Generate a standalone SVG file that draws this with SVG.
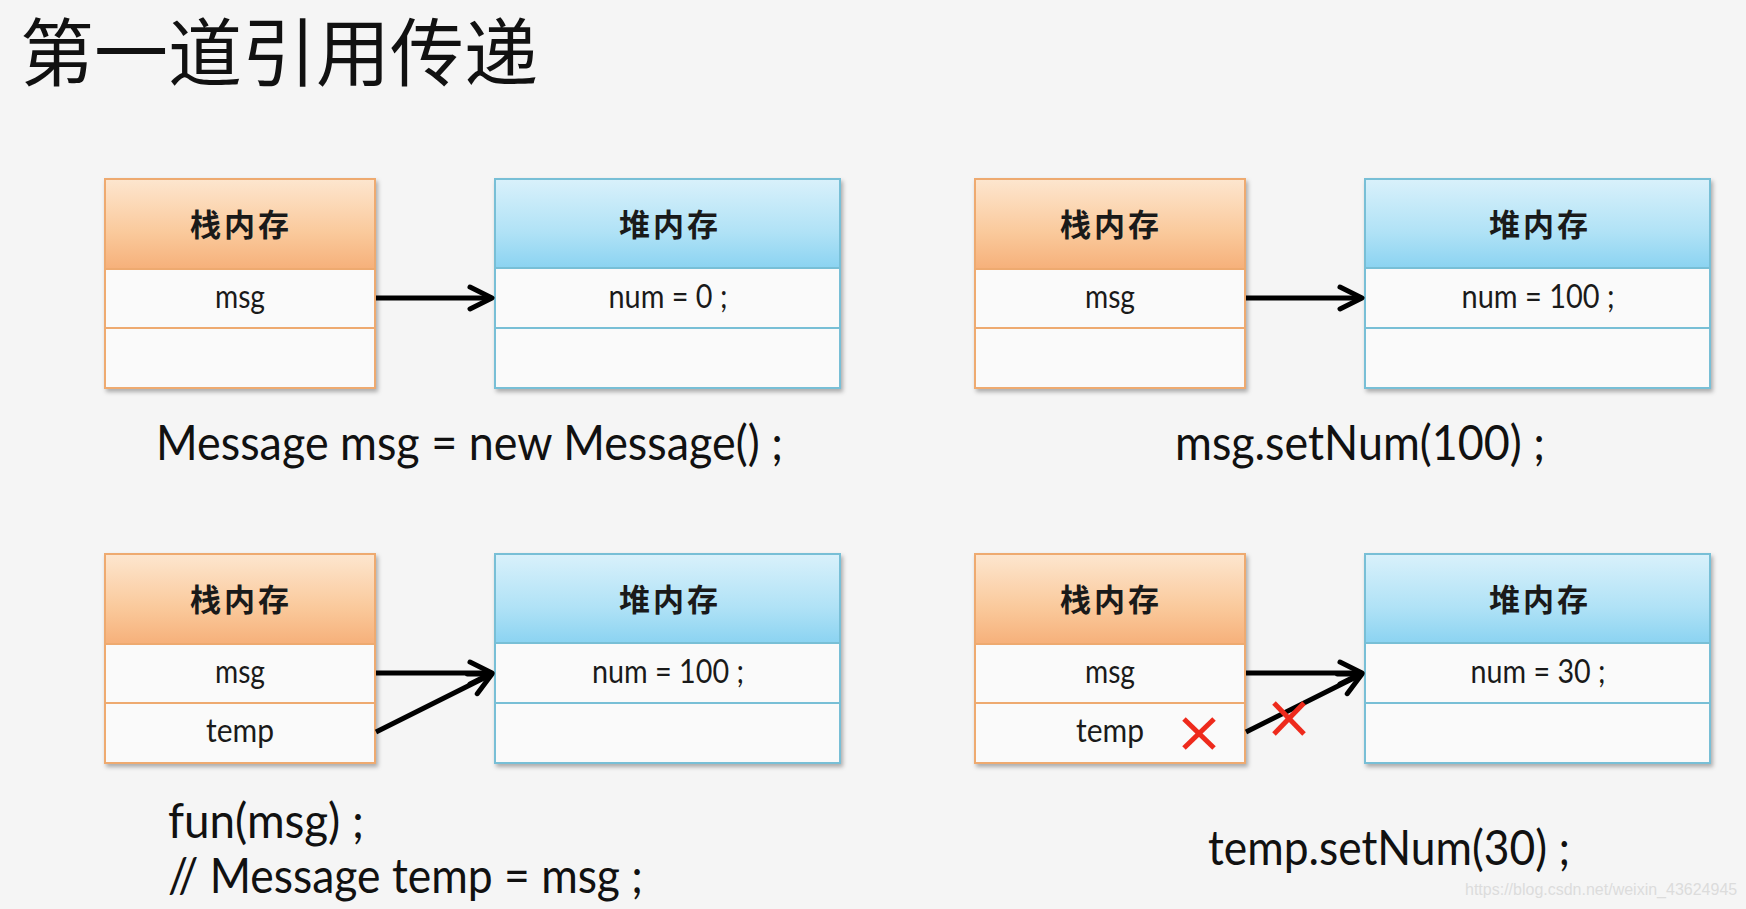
<svg xmlns="http://www.w3.org/2000/svg" width="1746" height="909" viewBox="0 0 1746 909">
<defs>
<linearGradient id="gStack" x1="0" y1="0" x2="0" y2="1">
<stop offset="0" stop-color="#fde6cf"/>
<stop offset="0.6" stop-color="#fac99b"/>
<stop offset="1" stop-color="#f6b07a"/>
</linearGradient>
<linearGradient id="gHeap" x1="0" y1="0" x2="0" y2="1">
<stop offset="0" stop-color="#d9f1fb"/>
<stop offset="0.6" stop-color="#b0e2f6"/>
<stop offset="1" stop-color="#8bd3f1"/>
</linearGradient>
<filter id="sh" x="-5%" y="-5%" width="115%" height="115%">
<feDropShadow dx="2" dy="3" stdDeviation="2" flood-color="#000" flood-opacity="0.3"/>
</filter>
<marker id="ah" viewBox="0 0 30 30" refX="26" refY="15" markerWidth="30" markerHeight="30" markerUnits="userSpaceOnUse" orient="auto">
<path d="M4,4 L26,15 L4,26" fill="none" stroke="#000" stroke-width="5" stroke-linecap="round" stroke-linejoin="round"/>
</marker>
<g id="stackBox">
<rect x="0" y="0" width="270" height="209" fill="#fafafa" stroke="#eeaa70" stroke-width="2" filter="url(#sh)"/>
<rect x="0" y="0" width="270" height="90" fill="url(#gStack)" stroke="#eeaa70" stroke-width="2"/>
<line x1="0" y1="149" x2="270" y2="149" stroke="#eeaa70" stroke-width="2"/>
<text x="136" y="57" class="cjkh">栈内存</text>
</g>
<g id="heapBox">
<rect x="0" y="0" width="345" height="209" fill="#fafafa" stroke="#78bfd6" stroke-width="2" filter="url(#sh)"/>
<rect x="0" y="0" width="345" height="89" fill="url(#gHeap)" stroke="#78bfd6" stroke-width="2"/>
<line x1="0" y1="149" x2="345" y2="149" stroke="#78bfd6" stroke-width="2"/>
<text x="175" y="57" class="cjkh">堆内存</text>
</g>
</defs>
<style>
.cjkh{font-family:"Noto Sans CJK SC","Noto Sans CJK TC",sans-serif;font-weight:bold;font-size:31px;letter-spacing:3px;text-anchor:middle;fill:#1a1a1a}
.cell{font-family:Lato,"Liberation Sans",sans-serif;font-size:32px;text-anchor:middle;fill:#1a1a1a}
.code{font-family:Lato,"Liberation Sans",sans-serif;font-size:49px;fill:#111}
.title{font-family:"Noto Sans CJK SC","Noto Sans CJK TC",sans-serif;font-size:74px;fill:#111}
.conn{stroke:#000;stroke-width:5;fill:none;marker-end:url(#ah)}
.xmark{stroke:#ee2a1c;stroke-width:5;stroke-linecap:butt}
</style>
<rect width="1746" height="909" fill="#f5f5f5"/>
<text id="title" class="title" x="20" y="80">第一道引用传递</text>

<!-- Panel 1 -->
<g id="p1-stack"><use href="#stackBox" x="105" y="179"/><text class="cell" x="240" y="308" textLength="50" lengthAdjust="spacingAndGlyphs">msg</text></g>
<g id="p1-heap"><use href="#heapBox" x="495" y="179"/><text class="cell" x="668" y="308" textLength="119" lengthAdjust="spacingAndGlyphs">num = 0 ;</text></g>
<text id="p1-code" class="code" x="156" y="460" textLength="627" lengthAdjust="spacingAndGlyphs">Message msg = new Message() ;</text>

<!-- Panel 2 -->
<g id="p2-stack"><use href="#stackBox" x="975" y="179"/><text class="cell" x="1110" y="308" textLength="50" lengthAdjust="spacingAndGlyphs">msg</text></g>
<g id="p2-heap"><use href="#heapBox" x="1365" y="179"/><text class="cell" x="1538" y="308" textLength="153" lengthAdjust="spacingAndGlyphs">num = 100 ;</text></g>
<text id="p2-code" class="code" x="1175" y="460" textLength="370" lengthAdjust="spacingAndGlyphs">msg.setNum(100) ;</text>

<!-- Panel 3 -->
<g id="p3-stack"><use href="#stackBox" x="105" y="554"/><text class="cell" x="240" y="683" textLength="50" lengthAdjust="spacingAndGlyphs">msg</text><text class="cell" x="240" y="742" textLength="68" lengthAdjust="spacingAndGlyphs">temp</text></g>
<g id="p3-heap"><use href="#heapBox" x="495" y="554"/><text class="cell" x="668" y="683" textLength="152" lengthAdjust="spacingAndGlyphs">num = 100 ;</text></g>
<text id="p3-code1" class="code" x="168" y="838" textLength="196" lengthAdjust="spacingAndGlyphs">fun(msg) ;</text>
<text id="p3-code2" class="code" x="168" y="893" textLength="475" lengthAdjust="spacingAndGlyphs">// Message temp = msg ;</text>

<!-- Panel 4 -->
<g id="p4-stack"><use href="#stackBox" x="975" y="554"/><text class="cell" x="1110" y="683" textLength="50" lengthAdjust="spacingAndGlyphs">msg</text><text class="cell" x="1110" y="742" textLength="68" lengthAdjust="spacingAndGlyphs">temp</text></g>
<g id="p4-heap"><use href="#heapBox" x="1365" y="554"/><text class="cell" x="1538" y="683" textLength="135" lengthAdjust="spacingAndGlyphs">num = 30 ;</text></g>
<text id="p4-code" class="code" x="1208" y="865" textLength="362" lengthAdjust="spacingAndGlyphs">temp.setNum(30) ;</text>

<g id="connectors">
<line class="conn" x1="376" y1="298" x2="492" y2="298"/>
<line class="conn" x1="1246" y1="298" x2="1362" y2="298"/>
<line class="conn" x1="376" y1="673" x2="492" y2="673"/>
<line class="conn" x1="376" y1="732" x2="492" y2="674"/>
<line class="conn" x1="1246" y1="673" x2="1362" y2="673"/>
<line class="conn" x1="1246" y1="732" x2="1362" y2="674"/>
</g>

<g id="marks">
<line class="xmark" x1="1184" y1="719" x2="1214" y2="748"/>
<line class="xmark" x1="1214" y1="719" x2="1184" y2="748"/>
<line class="xmark" x1="1274" y1="703" x2="1304" y2="734"/>
<line class="xmark" x1="1304" y1="703" x2="1274" y2="734"/>
</g>

<text id="watermark" x="1465" y="895" font-family="Liberation Sans, sans-serif" font-size="16" fill="#dcdcdc">https://blog.csdn.net/weixin_43624945</text>
</svg>
